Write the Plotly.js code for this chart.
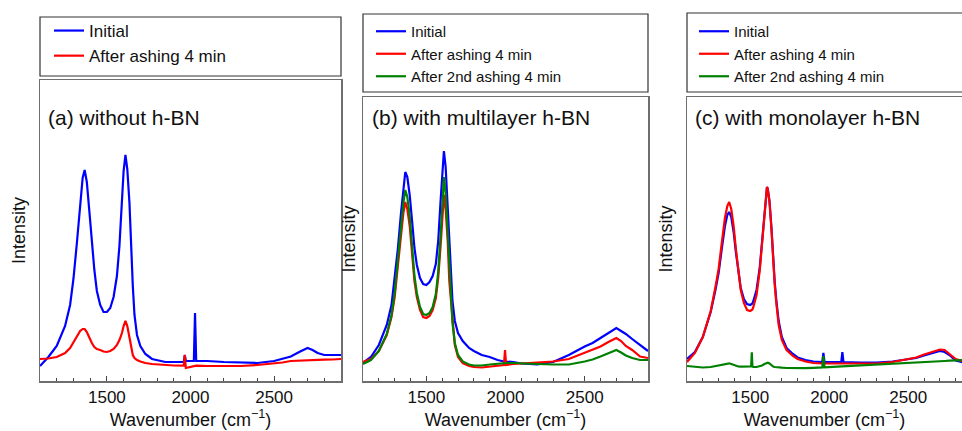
<!DOCTYPE html>
<html>
<head>
<meta charset="utf-8">
<script src="https://cdn.plot.ly/plotly-3.0.1.min.js"></script>
<style>html,body{margin:0;padding:0;background:#fff;}#chart{width:962px;height:431px;}</style>
</head>
<body>
<div id="chart"></div>
<script>
// ---------------- data ----------------
const seriesNames = ['Initial', 'After ashing 4 min', 'After 2nd ashing 4 min'];
const seriesColors = ['#0000ff', '#ff0000', '#008000'];
const panelTitles = ['(a) without h-BN', '(b) with multilayer h-BN', '(c) with monolayer h-BN'];
const xTitle = 'Wavenumber (cm<sup>\u22121</sup>)';
const yTitle = 'Intensity';
const tickLabels = [1500, 2000, 2500];

// panel (a)
const aWn = [1100,1150,1200,1250,1280,1300,1320,1340,1355,1367,1380,1395,1410,1425,1440,1460,1480,1500,1520,1540,1560,1575,1590,1600,1611,1622,1635,1645,1655,1665,1680,1700,1730,1770,1800,1850,1900,1960,1966,1972,2020,2027,2034,2100,2200,2300,2400,2500,2550,2600,2650,2700,2730,2760,2800,2850,2900];
const aInitial = [15,24,35,55,76,102,137,178,203,211,199,170,138,111,90,76,69,69,73,84,105,135,180,210,226,212,178,130,95,66,46,35,27,22,21,19,19,19,26,20,20,68,20,20,19,18.5,18,20,22,24.5,29,33,31,28,26,26,26];
const aAshed = [22,22.5,24,28,33,39,45,50,52,52,49,43,38,34,32,31,29.5,29,30,32,36,41,48,55,60,55,44,32,26,23,21,19.5,18,17,16.5,16,15.5,15.3,26,13,15.3,15.3,15.3,15,15,15,16,17.5,18.5,20,20.5,21,21,21,21.3,21.5,22];

// panel (b)
const bWn = [1100,1150,1200,1250,1280,1290,1300,1320,1340,1355,1367,1380,1395,1410,1425,1440,1460,1480,1500,1520,1540,1560,1575,1590,1600,1611,1622,1635,1645,1655,1665,1680,1700,1730,1770,1800,1850,1900,1950,1990,1997,2004,2050,2100,2200,2300,2400,2500,2550,2600,2650,2700,2730,2760,2800,2850,2900];
const bInitial = [18,24,36,56,76,90,100,132,168,195,209,204,186,160,133,116,103,97,96,99,105,117,140,180,210,230,214,175,140,105,80,60,48,40,33,30,26,24,21,19.5,19.5,19.5,19,17.5,16.5,19,26,34.5,38,43,48,53,50,47,42,36,30];
const bAshed = [19,22,30,46,64,74,84,115,147,168,179,172,155,125,100,84,71,64,63,65,71,83,103,135,162,186,172,140,100,80,57,36,24,18,15,14,13.5,14.5,15.5,16,31,16,17,17.5,18.5,19.5,22,28,31,34.5,39,43,40,35,31,24.5,23];
const bAshed2 = [17,21,30,47,66,77,88,121,155,178,191,184,165,133,105,88,74,67,66,68,74,87,109,145,176,204,188,146,108,80,58,38,26,19.5,16.5,15.5,15.5,16.5,17.5,18,18,18,18,17.5,17,16.5,16.5,19.5,21.5,24.5,28,31,28.5,25.5,23,21,21];

// panel (c)
const cWn = [1100,1150,1200,1250,1280,1300,1320,1340,1355,1367,1380,1395,1410,1425,1440,1460,1480,1500,1506,1510,1514,1520,1540,1560,1575,1590,1600,1606,1611,1622,1635,1645,1655,1665,1680,1700,1730,1770,1800,1850,1900,1956,1963,1970,2050,2076,2083,2090,2200,2300,2400,2500,2550,2600,2650,2700,2730,2760,2800,2850];
const cInitial = [22,29,44,69,91,108,132,155,166,169,164,149,128,108,93,82,77,76,76.5,77,77.5,80,91,113,140,171,189,194,192,180,152,123,99,81,60,44,33,27,23.5,21,19.5,19,28,19,19,19,29,19,18.5,18.5,19.5,21.5,23,25.5,28,30,29,26,20.5,18.5];
const cAshed = [19,28,44,70,94,112,138,163,175,179,172,155,131,108,91,78,71,70,70.5,71,71.5,74,86,110,138,170,188,194,192,179,150,120,96,78,56,41,31,25,22,19.5,18,17.5,17.5,17.5,17,17,17,17,17,17.5,19,21.5,23.5,26.5,29,31.5,31,27.5,22,19.5];
const cAshed2 = [15,14,13.5,14,15,16,16.5,17,17.5,17.7,17,16,15,14.5,14.3,14.5,15,14.5,14.5,28.7,14.5,14,14,14.5,15.5,17,18,18.3,18.3,17.5,15.5,14.5,14,13.7,13.5,13.3,13,12.8,12.7,12.8,13.2,13.6,25,13.6,14.3,14.5,14.5,14.5,15.2,16,16.8,17.7,18.2,18.7,19.2,19.7,20,20.3,20.7,21];

// ---------------- chart ----------------
const W = 962, H = 431;
const FONT = 'Arial, "Liberation Sans", sans-serif';
const px = v => v / W;
const py = v => 1 - v / H;

function tr(x, y, i, ax, lg) {
  return {
    type: 'scatter', mode: 'lines', x: x, y: y, name: seriesNames[i],
    xaxis: 'x' + ax, yaxis: 'y' + ax, legend: lg,
    line: {color: seriesColors[i], width: 2.2}
  };
}

const data = [
  tr(aWn, aInitial, 0, '', 'legend'),
  tr(aWn, aAshed, 1, '', 'legend'),
  tr(bWn, bInitial, 0, '2', 'legend2'),
  tr(bWn, bAshed, 1, '2', 'legend2'),
  tr(bWn, bAshed2, 2, '2', 'legend2'),
  tr(cWn, cInitial, 0, '3', 'legend3'),
  tr(cWn, cAshed, 1, '3', 'legend3'),
  tr(cWn, cAshed2, 2, '3', 'legend3')
];

function xa(d0, d1, range) {
  return {
    domain: [px(d0), px(d1)], range: range, tickvals: tickLabels,
    ticks: 'inside', ticklen: 5, tickwidth: 1.2, tickcolor: '#444',
    minor: {dtick: 100, tick0: 0, ticks: 'inside', ticklen: 3, tickwidth: 1, tickcolor: '#444'},
    showline: true, mirror: true, linecolor: '#6e6e6e', linewidth: 1.5,
    showgrid: false, zeroline: false,
    tickfont: {family: FONT, size: 17, color: '#111'},
    title: {text: xTitle, font: {family: FONT, size: 18, color: '#111'}, standoff: 7}
  };
}
function ya(top, range, mirror, anchor, standoff) {
  return {
    domain: [py(381), py(top)], range: range, anchor: anchor,
    showticklabels: false, ticks: '', showgrid: false, zeroline: false,
    showline: true, mirror: mirror, linecolor: '#6e6e6e', linewidth: 1.5,
    title: {text: yTitle, font: {family: FONT, size: 18, color: '#111'}, standoff: standoff}
  };
}

const legendBase = {
  xanchor: 'left', yanchor: 'top', bgcolor: 'rgba(0,0,0,0)', borderwidth: 0,
  orientation: 'v', traceorder: 'normal'
};

const layout = {
  width: W, height: H,
  margin: {l: 0, r: 0, t: 0, b: 0},
  paper_bgcolor: '#fff', plot_bgcolor: '#fff',
  font: {family: FONT, color: '#111'},
  showlegend: true,
  xaxis: Object.assign(xa(40, 341, [1100, 2900]), {anchor: 'y'}),
  yaxis: ya(80, [0, 301], true, 'x', 8),
  xaxis2: Object.assign(xa(363, 648, [1100, 2900]), {anchor: 'y2'}),
  yaxis2: ya(97, [0, 284], true, 'x2', 1),
  xaxis3: Object.assign(xa(687, 962, [1100, 2840]), {anchor: 'y3'}),
  yaxis3: ya(97, [0, 284], false, 'x3', 8),
  legend: Object.assign({}, legendBase, {x: px(49), y: py(13), font: {family: FONT, size: 17, color: '#111'}}),
  legend2: Object.assign({}, legendBase, {x: px(371), y: py(15), font: {family: FONT, size: 15, color: '#111'}}),
  legend3: Object.assign({}, legendBase, {x: px(694), y: py(15), font: {family: FONT, size: 15, color: '#111'}}),
  shapes: [
    {type: 'rect', xref: 'paper', yref: 'paper', x0: px(40), x1: px(341), y0: py(76), y1: py(17), line: {color: '#333', width: 1.2}},
    {type: 'rect', xref: 'paper', yref: 'paper', x0: px(363), x1: px(648), y0: py(92), y1: py(14), line: {color: '#333', width: 1.2}},
    {type: 'rect', xref: 'paper', yref: 'paper', x0: px(687), x1: px(975), y0: py(92), y1: py(13), line: {color: '#333', width: 1.2}}
  ],
  annotations: [
    {text: panelTitles[0], xref: 'paper', yref: 'paper', x: px(46), y: py(118), xanchor: 'left', yanchor: 'middle', showarrow: false, font: {family: FONT, size: 21, color: '#111'}},
    {text: panelTitles[1], xref: 'paper', yref: 'paper', x: px(370), y: py(118), xanchor: 'left', yanchor: 'middle', showarrow: false, font: {family: FONT, size: 21, color: '#111'}},
    {text: panelTitles[2], xref: 'paper', yref: 'paper', x: px(693), y: py(118), xanchor: 'left', yanchor: 'middle', showarrow: false, font: {family: FONT, size: 21, color: '#111'}}
  ]
};

Plotly.newPlot('chart', data, layout, {displayModeBar: false, staticPlot: true});
</script>
</body>
</html>
